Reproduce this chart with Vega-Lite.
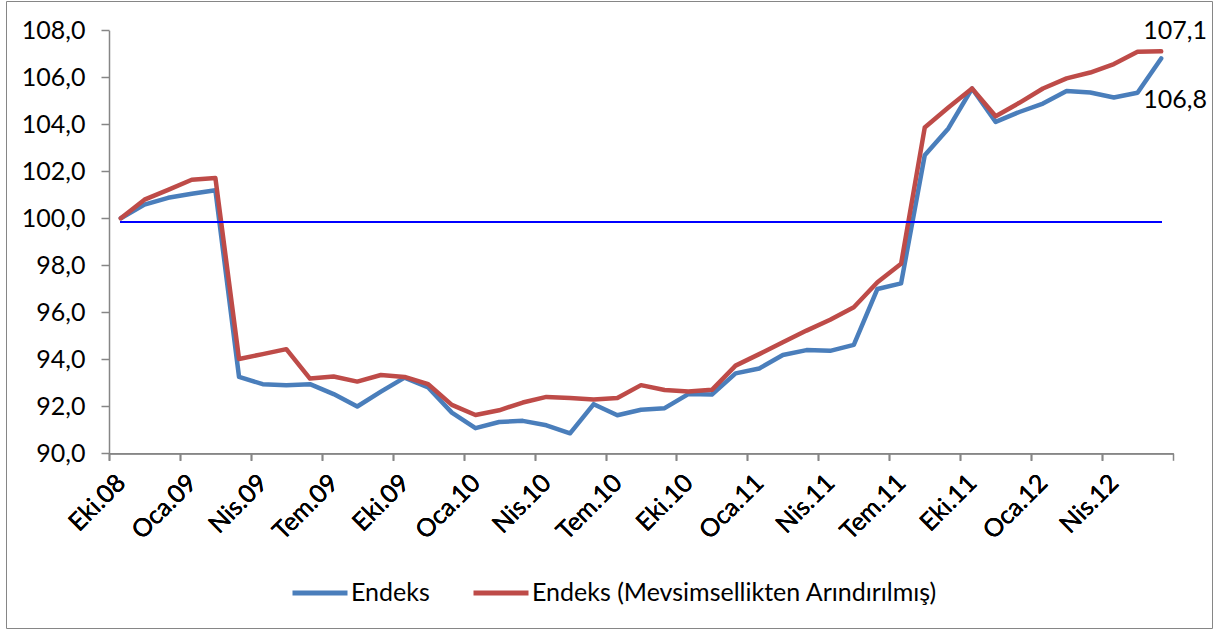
{
  "$schema": "https://vega.github.io/schema/vega-lite/v6.json",
  "width": 1206,
  "height": 627,
  "autosize": {"type": "none"},
  "padding": {"left": 6, "top": 1, "right": 2, "bottom": 2},
  "background": "white",
  "config": {
    "view": {"stroke": "#868686", "strokeWidth": 1},
    "font": "Lato"
  },
  "data": {
    "values": [
      {"ay": "Eki.08", "Endeks": 100.0, "Endeks (Mevsimsellikten Arındırılmış)": 100.0},
      {"ay": "Kas.08", "Endeks": 100.58, "Endeks (Mevsimsellikten Arındırılmış)": 100.79},
      {"ay": "Ara.08", "Endeks": 100.87, "Endeks (Mevsimsellikten Arındırılmış)": 101.21},
      {"ay": "Oca.09", "Endeks": 101.04, "Endeks (Mevsimsellikten Arındırılmış)": 101.64},
      {"ay": "Şub.09", "Endeks": 101.19, "Endeks (Mevsimsellikten Arındırılmış)": 101.71},
      {"ay": "Mar.09", "Endeks": 93.25, "Endeks (Mevsimsellikten Arındırılmış)": 94.01},
      {"ay": "Nis.09", "Endeks": 92.94, "Endeks (Mevsimsellikten Arındırılmış)": 94.22},
      {"ay": "May.09", "Endeks": 92.90, "Endeks (Mevsimsellikten Arındırılmış)": 94.43},
      {"ay": "Haz.09", "Endeks": 92.94, "Endeks (Mevsimsellikten Arındırılmış)": 93.18},
      {"ay": "Tem.09", "Endeks": 92.52, "Endeks (Mevsimsellikten Arındırılmış)": 93.27},
      {"ay": "Ağu.09", "Endeks": 91.99, "Endeks (Mevsimsellikten Arındırılmış)": 93.05},
      {"ay": "Eyl.09", "Endeks": 92.62, "Endeks (Mevsimsellikten Arındırılmış)": 93.33},
      {"ay": "Eki.09", "Endeks": 93.22, "Endeks (Mevsimsellikten Arındırılmış)": 93.25},
      {"ay": "Kas.09", "Endeks": 92.80, "Endeks (Mevsimsellikten Arındırılmış)": 92.94},
      {"ay": "Ara.09", "Endeks": 91.73, "Endeks (Mevsimsellikten Arındırılmış)": 92.06},
      {"ay": "Oca.10", "Endeks": 91.07, "Endeks (Mevsimsellikten Arındırılmış)": 91.63},
      {"ay": "Şub.10", "Endeks": 91.33, "Endeks (Mevsimsellikten Arındırılmış)": 91.83},
      {"ay": "Mar.10", "Endeks": 91.38, "Endeks (Mevsimsellikten Arındırılmış)": 92.16},
      {"ay": "Nis.10", "Endeks": 91.19, "Endeks (Mevsimsellikten Arındırılmış)": 92.40},
      {"ay": "May.10", "Endeks": 90.85, "Endeks (Mevsimsellikten Arındırılmış)": 92.35},
      {"ay": "Haz.10", "Endeks": 92.09, "Endeks (Mevsimsellikten Arındırılmış)": 92.29},
      {"ay": "Tem.10", "Endeks": 91.62, "Endeks (Mevsimsellikten Arındırılmış)": 92.35},
      {"ay": "Ağu.10", "Endeks": 91.85, "Endeks (Mevsimsellikten Arındırılmış)": 92.90},
      {"ay": "Eyl.10", "Endeks": 91.92, "Endeks (Mevsimsellikten Arındırılmış)": 92.69},
      {"ay": "Eki.10", "Endeks": 92.52, "Endeks (Mevsimsellikten Arındırılmış)": 92.63},
      {"ay": "Kas.10", "Endeks": 92.50, "Endeks (Mevsimsellikten Arındırılmış)": 92.70},
      {"ay": "Ara.10", "Endeks": 93.40, "Endeks (Mevsimsellikten Arındırılmış)": 93.73},
      {"ay": "Oca.11", "Endeks": 93.61, "Endeks (Mevsimsellikten Arındırılmış)": 94.22},
      {"ay": "Şub.11", "Endeks": 94.18, "Endeks (Mevsimsellikten Arındırılmış)": 94.72},
      {"ay": "Mar.11", "Endeks": 94.39, "Endeks (Mevsimsellikten Arındırılmış)": 95.22},
      {"ay": "Nis.11", "Endeks": 94.36, "Endeks (Mevsimsellikten Arındırılmış)": 95.68},
      {"ay": "May.11", "Endeks": 94.61, "Endeks (Mevsimsellikten Arındırılmış)": 96.21},
      {"ay": "Haz.11", "Endeks": 96.99, "Endeks (Mevsimsellikten Arındırılmış)": 97.28},
      {"ay": "Tem.11", "Endeks": 97.23, "Endeks (Mevsimsellikten Arındırılmış)": 98.06},
      {"ay": "Ağu.11", "Endeks": 102.68, "Endeks (Mevsimsellikten Arındırılmış)": 103.86},
      {"ay": "Eyl.11", "Endeks": 103.82, "Endeks (Mevsimsellikten Arındırılmış)": 104.71},
      {"ay": "Eki.11", "Endeks": 105.52, "Endeks (Mevsimsellikten Arındırılmış)": 105.52},
      {"ay": "Kas.11", "Endeks": 104.10, "Endeks (Mevsimsellikten Arındırılmış)": 104.34},
      {"ay": "Ara.11", "Endeks": 104.52, "Endeks (Mevsimsellikten Arındırılmış)": 104.91},
      {"ay": "Oca.12", "Endeks": 104.88, "Endeks (Mevsimsellikten Arındırılmış)": 105.52},
      {"ay": "Şub.12", "Endeks": 105.41, "Endeks (Mevsimsellikten Arındırılmış)": 105.95},
      {"ay": "Mar.12", "Endeks": 105.35, "Endeks (Mevsimsellikten Arındırılmış)": 106.20},
      {"ay": "Nis.12", "Endeks": 105.14, "Endeks (Mevsimsellikten Arındırılmış)": 106.56},
      {"ay": "May.12", "Endeks": 105.34, "Endeks (Mevsimsellikten Arındırılmış)": 107.08},
      {"ay": "Haz.12", "Endeks": 106.8, "Endeks (Mevsimsellikten Arındırılmış)": 107.1}
    ]
  },
  "transform": [
    {"fold": ["Endeks", "Endeks (Mevsimsellikten Arındırılmış)"], "as": ["seri", "deger"]}
  ],
  "resolve": {"axis": {"x": "independent"}},
  "encoding": {
    "x": {
      "field": "ay", "type": "ordinal", "sort": null,
      "scale": {"type": "band", "range": [103, 1167], "paddingInner": 0, "paddingOuter": 0},
      "axis": {
        "orient": "bottom", "title": null, "offset": -174.7, "grid": false,
        "values": ["Eki.08", "Oca.09", "Nis.09", "Tem.09", "Eki.09", "Oca.10", "Nis.10", "Tem.10", "Eki.10", "Oca.11", "Nis.11", "Tem.11", "Eki.11", "Oca.12", "Nis.12"],
        "labelAngle": -45, "labelAlign": "right", "labelBaseline": "middle",
        "labelFont": "Lato", "labelFontSize": 25, "labelColor": "black",
        "labelPadding": 18, "labelOverlap": false, "labelLimit": 300,
        "domainColor": "#868686", "domainWidth": 1.5,
        "tickColor": "#868686", "tickWidth": 1.5, "tickSize": 7,
        "tickOffset": -11.82, "labelOffset": 11.82
      }
    },
    "y": {
      "field": "deger", "type": "quantitative",
      "scale": {"domain": [90, 108], "range": [452.3, 29.2], "nice": false, "zero": false},
      "axis": {
        "title": null, "offset": -103, "grid": false,
        "values": [90, 92, 94, 96, 98, 100, 102, 104, 106, 108],
        "labelExpr": "replace(format(datum.value, '.1f'), '.', ',')",
        "labelFont": "Lato", "labelFontSize": 25, "labelColor": "black", "labelPadding": 16,
        "domainColor": "#868686", "domainWidth": 1.5,
        "tickColor": "#868686", "tickWidth": 1.5, "tickSize": 8
      }
    }
  },
  "layer": [
    {
      "mark": {"type": "line", "strokeWidth": 4.5, "strokeCap": "round", "strokeJoin": "round"},
      "encoding": {
        "color": {
          "field": "seri", "type": "nominal",
          "scale": {"domain": ["Endeks", "Endeks (Mevsimsellikten Arındırılmış)"], "range": ["#4A7EBB", "#BE4B48"]},
          "legend": {
            "title": null, "orient": "none", "legendX": 284, "legendY": 562, "direction": "horizontal",
            "padding": 0, "symbolType": "stroke", "symbolSize": 3025, "symbolStrokeWidth": 5,
            "labelFont": "Lato", "labelFontSize": 25, "labelColor": "black", "labelOffset": 1,
            "labelLimit": 600, "columnPadding": 33
          }
        }
      }
    },
    {
      "mark": {"type": "rule", "color": "#0000FF", "strokeWidth": 1.5},
      "encoding": {
        "x": {
          "datum": "Eki.08",
          "axis": {
            "orient": "bottom", "title": null, "offset": -174.7, "grid": false, "domain": false, "labels": false,
            "values": ["Haz.12"],
            "tickColor": "#868686", "tickWidth": 1.5, "tickSize": 7, "tickOffset": 11.82
          }
        },
        "x2": {"datum": "Haz.12"},
        "y": {"datum": 99.85}
      }
    },
    {
      "transform": [{"filter": "datum.ay == 'Haz.12' && datum.seri != 'Endeks'"}, {"calculate": "replace(format(datum.deger, '.1f'), '.', ',')", "as": "etiket"}],
      "mark": {"type": "text", "font": "Lato", "fontSize": 25, "color": "black", "align": "center", "baseline": "middle", "dx": 14, "dy": -20},
      "encoding": {"text": {"field": "etiket", "type": "nominal"}}
    },
    {
      "transform": [{"filter": "datum.ay == 'Haz.12' && datum.seri == 'Endeks'"}, {"calculate": "replace(format(datum.deger, '.1f'), '.', ',')", "as": "etiket"}],
      "mark": {"type": "text", "font": "Lato", "fontSize": 25, "color": "black", "align": "center", "baseline": "middle", "dx": 14, "dy": 42},
      "encoding": {"text": {"field": "etiket", "type": "nominal"}}
    }
  ]
}
